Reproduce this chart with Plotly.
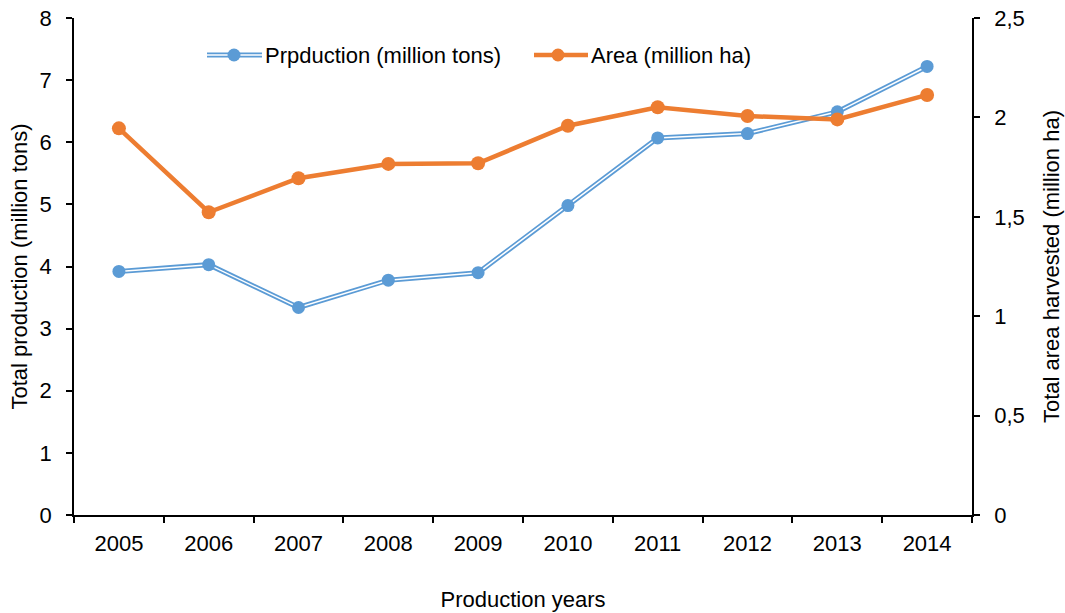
import plotly.graph_objects as go

# Production and harvested area by year
years = ["2005", "2006", "2007", "2008", "2009", "2010", "2011", "2012", "2013", "2014"]
production_mt = [3.92, 4.03, 3.34, 3.78, 3.90, 4.98, 6.07, 6.14, 6.49, 7.22]
area_mha = [1.945, 1.523, 1.694, 1.766, 1.769, 1.958, 2.051, 2.007, 1.990, 2.113]

left_ticks = [0, 1, 2, 3, 4, 5, 6, 7, 8]
right_ticks = [0, 0.5, 1, 1.5, 2, 2.5]

BLUE = "#5B9BD5"
ORANGE = "#ED7D31"
FONT = "Arial, Liberation Sans, sans-serif"
FS = 22

W, H = 1065, 613
ML, MR, MT, MB = 74, 93, 18, 98
PW, PH = W - ML - MR, H - MT - MB


def px_to_paper(px, py):
    return (px - ML) / PW, (H - MB - py) / PH


fig = go.Figure()

# double-stroke production line: thick blue under a thin white core
fig.add_trace(go.Scatter(
    x=years, y=production_mt, mode="lines",
    line=dict(color=BLUE, width=5), showlegend=False, hoverinfo="skip"))
fig.add_trace(go.Scatter(
    x=years, y=production_mt, mode="lines+markers",
    line=dict(color="white", width=1.5),
    marker=dict(color=BLUE, size=13, line=dict(width=0)),
    name="Prpduction (million tons)", showlegend=False))

fig.add_trace(go.Scatter(
    x=years, y=area_mha, mode="lines+markers", yaxis="y2",
    line=dict(color=ORANGE, width=4.5),
    marker=dict(color=ORANGE, size=14, line=dict(width=0)),
    name="Area (million ha)", showlegend=False))

# legend drawn as shapes + text
shapes = []
annotations = []
legend_y = 55
items = [
    (207, 262, 234, BLUE, True, "Prpduction (million tons)", 263),
    (534, 588, 558, ORANGE, False, "Area (million ha)", 589),
]
for x0, x1, xm, col, double, label, tx in items:
    a0, yy = px_to_paper(x0, legend_y)
    a1, _ = px_to_paper(x1, legend_y)
    am, _ = px_to_paper(xm, legend_y)
    shapes.append(dict(type="line", xref="paper", yref="paper", x0=a0, x1=a1, y0=yy, y1=yy,
                       line=dict(color=col, width=5 if double else 4.5), layer="above"))
    if double:
        shapes.append(dict(type="line", xref="paper", yref="paper", x0=a0, x1=a1, y0=yy, y1=yy,
                           line=dict(color="white", width=1.5), layer="above"))
    shapes.append(dict(type="circle", xref="paper", yref="paper", xsizemode="pixel", ysizemode="pixel",
                       xanchor=am, yanchor=yy, x0=-6.5, x1=6.5, y0=-6.5, y1=6.5,
                       fillcolor=col, line=dict(width=0), layer="above"))
    at, _ = px_to_paper(tx, legend_y)
    annotations.append(dict(xref="paper", yref="paper", x=at, y=yy, xanchor="left", yanchor="middle",
                            text=label, showarrow=False, font=dict(family=FONT, size=FS, color="black")))

axis_common = dict(showgrid=False, zeroline=False, showline=True, linecolor="black", linewidth=1.5,
                   ticks="outside", tickcolor="black", tickwidth=1.5, ticklen=6, automargin=False,
                   tickfont=dict(family=FONT, size=FS, color="black"))

fig.update_layout(
    width=W, height=H,
    margin=dict(l=ML, r=MR, t=MT, b=MB, pad=0),
    paper_bgcolor="white", plot_bgcolor="white",
    separators=",.",
    font=dict(family=FONT, size=FS, color="black"),
    xaxis=dict(type="category", tickson="boundaries", range=[-0.5, 9.5], ticklabelstandoff=8,
               title=dict(text="Production years", standoff=36,
                          font=dict(family=FONT, size=FS, color="black")),
               **axis_common),
    yaxis=dict(range=[0, 8], tickvals=left_ticks, ticklabelstandoff=10,
               title=dict(text="Total production (million tons)", standoff=6,
                          font=dict(family=FONT, size=FS, color="black")),
               **axis_common),
    yaxis2=dict(range=[0, 2.5], tickvals=right_ticks, overlaying="y", side="right",
                ticklabelstandoff=10,
                title=dict(text="Total area harvested (million ha)", standoff=20,
                           font=dict(family=FONT, size=FS, color="black")),
                **axis_common),
    shapes=shapes,
    annotations=annotations,
)

fig.write_html("out.html")
